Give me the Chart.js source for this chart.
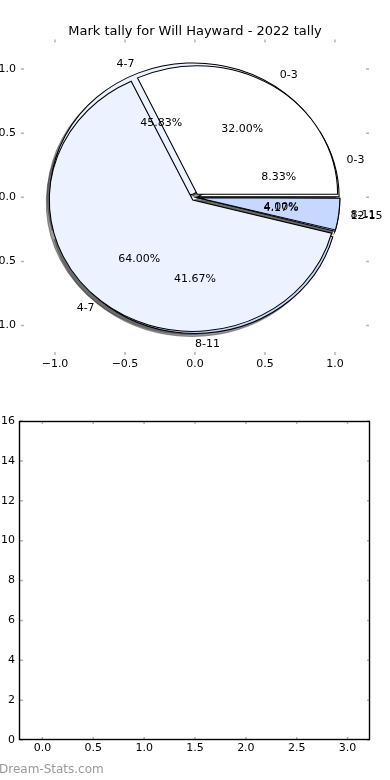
<!DOCTYPE html>
<html>
<head>
<meta charset="utf-8">
<script src="https://cdn.jsdelivr.net/npm/chart.js@4.4.1/dist/chart.umd.min.js"></script>
<style>
  html, body { margin: 0; padding: 0; background: #fff; }
  #wrap { position: relative; width: 390px; height: 780px; overflow: hidden; background: #fff; }
  canvas { position: absolute; left: 0; top: 0; }
</style>
</head>
<body>
<div id="wrap">
  <canvas id="pieAxes" width="390" height="390"></canvas>
  <canvas id="shadowB"></canvas>
  <canvas id="shadowA"></canvas>
  <canvas id="pieB"></canvas>
  <canvas id="pieA"></canvas>
  <canvas id="barAxes" width="390" height="390" style="top:390px"></canvas>
</div>
<script>
// data (two tallies drawn on top of each other)
const titleText = 'Mark tally for Will Hayward - 2022 tally';
const tallyLabelsA = ['0-3', '4-7', '8-11'];
const tallyCountsA = [8, 16, 1];
const tallyLabelsB = ['0-3', '4-7', '8-11', '12-15'];
const tallyCountsB = [2, 11, 10, 1];
const pieTicks = [-1, -0.5, 0, 0.5, 1];
const barXTicks = [0, 0.5, 1, 1.5, 2, 2.5, 3];
const barYTicks = [0, 2, 4, 6, 8, 10, 12, 14, 16];
const barValues = [];   // lower panel is empty

// look
const sliceColors = {'0-3': '#ffffff', '4-7': '#ecf2ff', '8-11': '#c6d8ff', '12-15': '#b8cfff'};
const explodeA = [0.03, 0.025, 0.02];
const explodeB = [0.02, 0.03, 0.04, 0.02];
const shadowColor = 'rgba(60,60,60,0.5)';

Chart.defaults.font.family = '"DejaVu Sans", sans-serif';
Chart.defaults.font.size = 11;
Chart.defaults.color = '#000';

function fmt(v) {
  return (v < 0 ? '\u2212' : '') + Math.abs(v).toFixed(1);
}

// small inward ticks on all four sides (+ optional frame)
const tickMarks = {
  id: 'tickMarks',
  afterDraw(chart, args, opts) {
    const {ctx, chartArea: a} = chart;
    const x = chart.scales.x, y = chart.scales.y;
    ctx.save();
    ctx.strokeStyle = '#b4b4b4';
    ctx.lineWidth = 1.5;
    ctx.beginPath();
    x.ticks.forEach(t => {
      const p = x.getPixelForValue(t.value);
      ctx.moveTo(p, a.top); ctx.lineTo(p, a.top + 3);
      ctx.moveTo(p, a.bottom); ctx.lineTo(p, a.bottom - 3);
    });
    y.ticks.forEach(t => {
      const p = y.getPixelForValue(t.value);
      ctx.moveTo(a.left, p); ctx.lineTo(a.left + 3, p);
      ctx.moveTo(a.right, p); ctx.lineTo(a.right - 3, p);
    });
    ctx.stroke();
    if (opts.frame) {
      const l = Math.round(a.left) - 0.5, t = Math.round(a.top) + 0.5;
      const r = Math.round(a.right) - 0.5, b = Math.round(a.bottom) - 0.5;
      ctx.strokeStyle = '#000';
      ctx.lineWidth = 1.4;
      ctx.strokeRect(l, t, r - l, b - t);
    }
    if (opts.mark) {
      ctx.fillStyle = '#999';
      ctx.font = '12px "DejaVu Sans"';
      ctx.textAlign = 'left';
      ctx.textBaseline = 'middle';
      ctx.fillText(opts.mark, -1, chart.height - 10);
    }
    ctx.restore();
  }
};

const pieAxes = new Chart(document.getElementById('pieAxes'), {
  type: 'scatter',
  data: {datasets: []},
  options: {
    responsive: false, animation: false, events: [],
    layout: {padding: 0},
    plugins: {
      legend: {display: false},
      tooltip: {enabled: false},
      title: {display: true, text: titleText, color: '#000',
              font: {size: 13, weight: 'normal'}, padding: {top: 24, bottom: 0}},
      tickMarks: {frame: false}
    },
    scales: {
      x: {type: 'linear', min: -1.243, max: 1.243,
          grid: {display: false, drawTicks: false}, border: {display: false},
          afterBuildTicks: s => { s.ticks = pieTicks.map(v => ({value: v})); },
          afterFit: s => { s.height = 35; },
          ticks: {padding: 3, callback: fmt, maxRotation: 0, autoSkip: false}},
      y: {type: 'linear', min: -1.23, max: 1.23,
          grid: {display: false, drawTicks: false}, border: {display: false},
          afterBuildTicks: s => { s.ticks = pieTicks.map(v => ({value: v})); },
          afterFit: s => { s.width = 21; },
          ticks: {padding: 5, callback: fmt, autoSkip: false}},
      // blank right-hand spacer so the title stays centred on the page
      yRight: {type: 'linear', position: 'right', min: -1.23, max: 1.23,
          grid: {display: false, drawTicks: false}, border: {display: false},
          ticks: {display: false},
          afterFit: s => { s.width = 21; }}
    }
  },
  plugins: [tickMarks]
});

// pie geometry comes from the axes above (unequal aspect -> ellipse)
const cx = pieAxes.scales.x.getPixelForValue(0);
const cy = pieAxes.scales.y.getPixelForValue(0);
const rx = pieAxes.scales.x.getPixelForValue(1) - cx;
const ry = cy - pieAxes.scales.y.getPixelForValue(1);
const stretch = rx / ry;

// flip + stretch so slices run counter-clockwise from 3 o'clock
const ellipse = {
  id: 'ellipse',
  beforeDatasetsDraw(chart) {
    const ctx = chart.ctx;
    const c = chart.getDatasetMeta(0).data[0];
    ctx.save();
    ctx.translate(c.x, c.y);
    ctx.scale(stretch, -1);
    ctx.translate(-c.x, -c.y);
  },
  afterDatasetsDraw(chart) {
    chart.ctx.restore();
  }
};

let pieB;
const pieText = {
  id: 'pieText',
  afterDraw(chart) {
    const ctx = chart.ctx;
    ctx.save();
    ctx.font = '11px "DejaVu Sans"';
    ctx.fillStyle = '#000';
    ctx.textBaseline = 'middle';
    [pieB, chart].forEach(pc => {
      const meta = pc.getDatasetMeta(0);
      const vals = pc.data.datasets[0].data;
      const total = vals.reduce((s, v) => s + v, 0);
      meta.data.forEach((arc, i) => {
        const mid = (arc.startAngle + arc.endAngle) / 2;
        const e = (arc.options.offset || 0) / 4 / arc.outerRadius;
        const r = arc.outerRadius, c = Math.cos(mid), s = Math.sin(mid);
        ctx.textAlign = c > -1e-6 ? 'left' : 'right';
        ctx.fillText(pc.data.labels[i], arc.x + r * stretch * (1.1 + e) * c, arc.y - r * (1.1 + e) * s);
        ctx.textAlign = 'center';
        ctx.fillText((vals[i] / total * 100).toFixed(2) + '%',
                     arc.x + r * stretch * (0.6 + e) * c, arc.y - r * (0.6 + e) * s);
      });
    });
    ctx.restore();
  }
};

function makePie(id, labels, counts, explode, shade, extra) {
  const cv = document.getElementById(id);
  cv.width = Math.round(2 * cx);
  cv.height = Math.round(2 * cy);
  if (shade) {
    cv.style.left = (-0.02 * rx) + 'px';
    cv.style.top = (0.02 * ry) + 'px';
  }
  return new Chart(cv, {
    type: 'pie',
    data: {
      labels: labels,
      datasets: [{
        data: counts,
        backgroundColor: shade ? shadowColor : labels.map(l => sliceColors[l]),
        borderColor: shade ? shadowColor : '#000',
        borderWidth: 1,
        borderAlign: 'center',
        borderJoinStyle: 'miter',
        offset: explode.map(e => e * ry * 4),
        hoverOffset: 0
      }]
    },
    options: {
      responsive: false, animation: false, events: [],
      radius: ry, rotation: 90,
      layout: {padding: 0},
      plugins: {legend: {display: false}, tooltip: {enabled: false}}
    },
    plugins: extra ? [ellipse, extra] : [ellipse]
  });
}

makePie('shadowB', tallyLabelsB, tallyCountsB, explodeB, true);
makePie('shadowA', tallyLabelsA, tallyCountsA, explodeA, true);
pieB = makePie('pieB', tallyLabelsB, tallyCountsB, explodeB, false);
makePie('pieA', tallyLabelsA, tallyCountsA, explodeA, false, pieText);

// lower panel: empty axes
new Chart(document.getElementById('barAxes'), {
  type: 'scatter',
  data: {datasets: [{data: barValues}]},
  options: {
    responsive: false, animation: false, events: [],
    layout: {padding: {left: 0, right: 20, top: 31, bottom: 0}},
    plugins: {
      legend: {display: false},
      tooltip: {enabled: false},
      tickMarks: {frame: true, mark: 'Dream-Stats.com'}
    },
    scales: {
      x: {type: 'linear', min: -0.22, max: 3.22,
          grid: {display: false, drawTicks: false}, border: {display: false},
          afterBuildTicks: s => { s.ticks = barXTicks.map(v => ({value: v})); },
          afterFit: s => { s.height = 40; },
          ticks: {padding: 2, callback: fmt, maxRotation: 0, autoSkip: false}},
      y: {type: 'linear', min: 0, max: 16,
          grid: {display: false, drawTicks: false}, border: {display: false},
          afterBuildTicks: s => { s.ticks = barYTicks.map(v => ({value: v})); },
          afterFit: s => { s.width = 20; },
          ticks: {padding: 5, autoSkip: false}}
    }
  },
  plugins: [tickMarks]
});
</script>
</body>
</html>
